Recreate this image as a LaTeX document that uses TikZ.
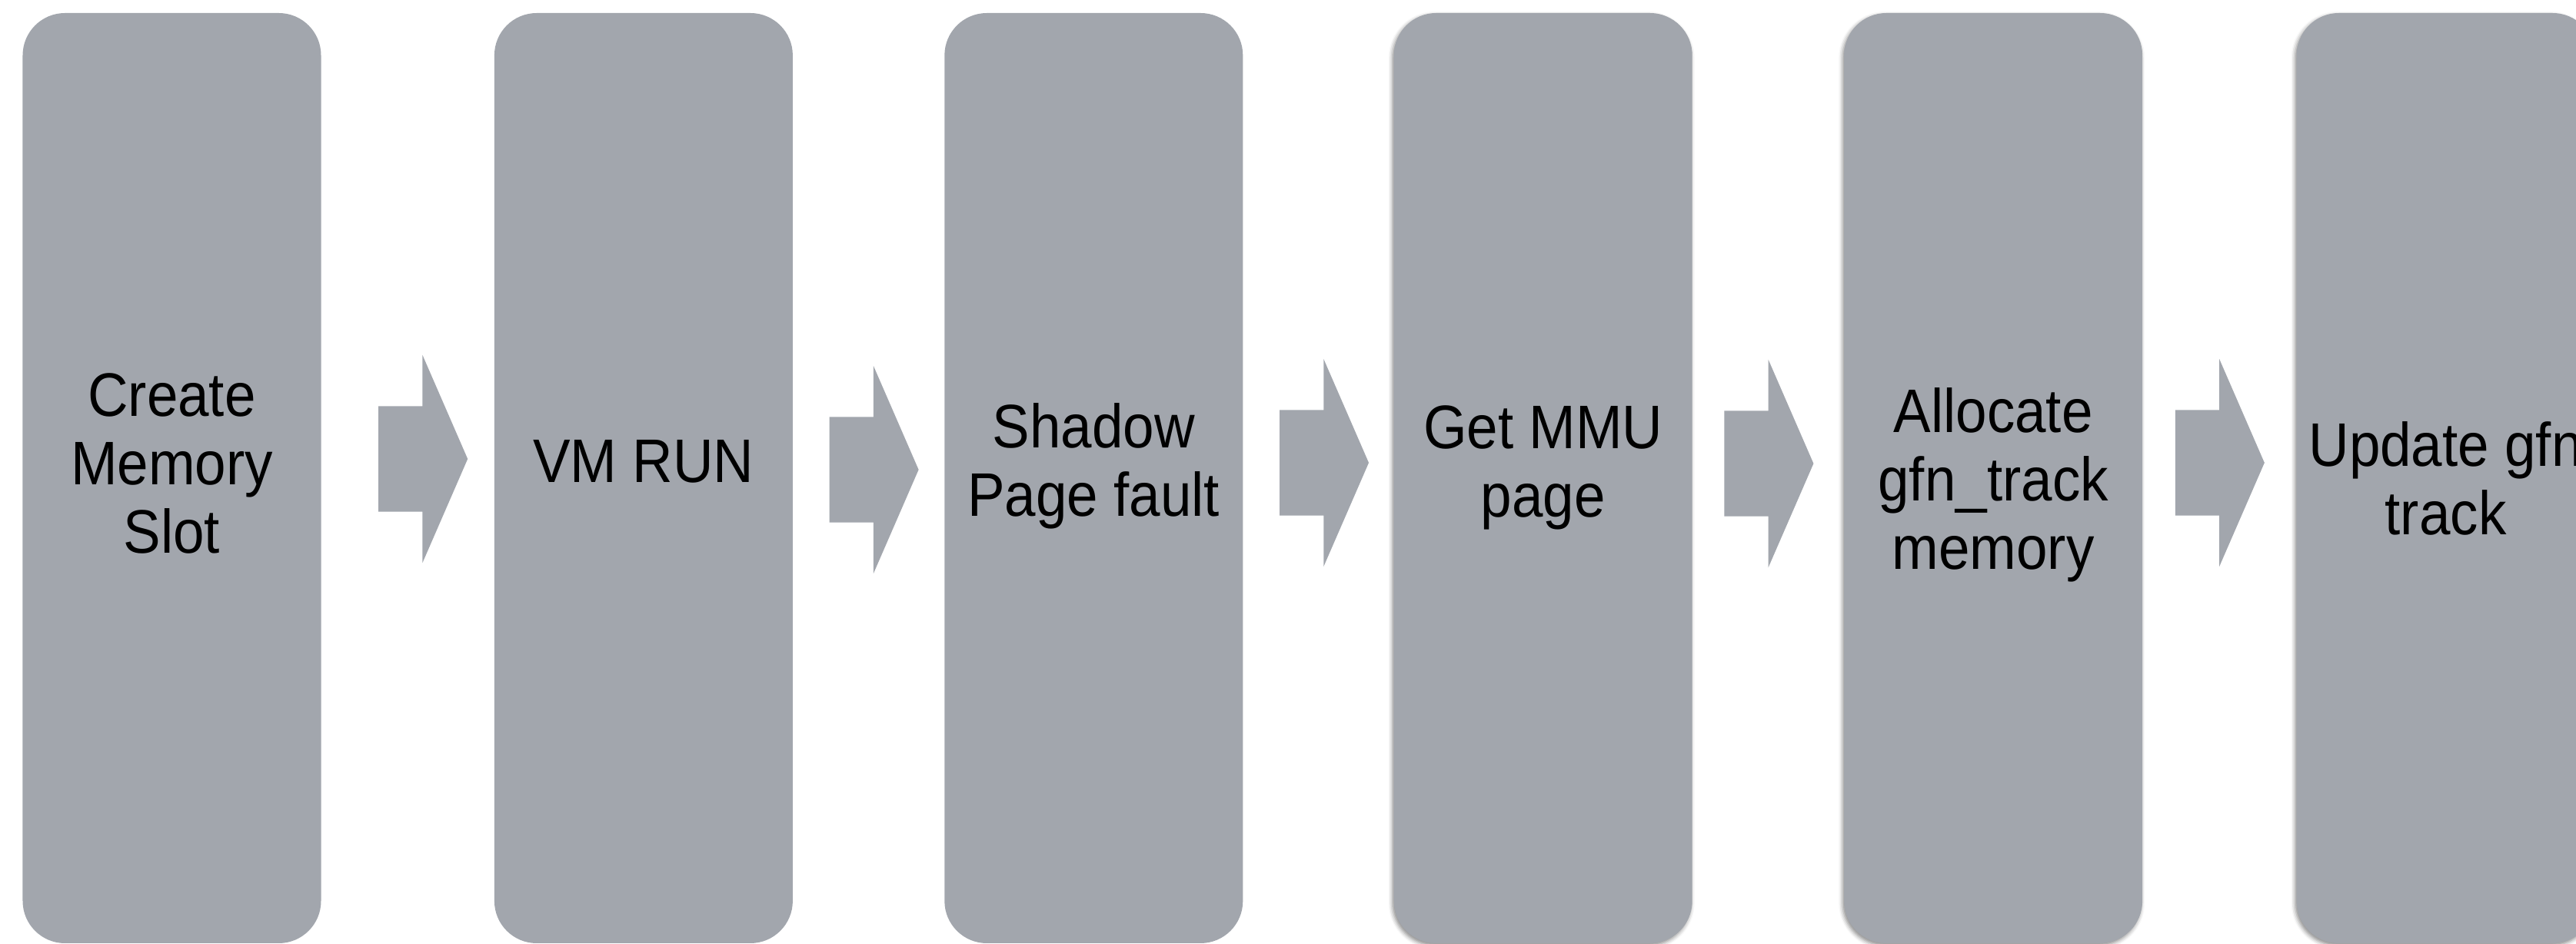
\documentclass[tikz,border=0pt]{standalone}
\usepackage{fontspec}
\setmainfont{Liberation Sans}[FakeStretch=0.91]
\usetikzlibrary{positioning,shapes.arrows,shadows.blur}
\definecolor{slate}{RGB}{162,166,173}

\begin{document}
\begin{tikzpicture}[
  stage/.style={fill=slate,rounded corners=0.55cm,minimum width=3.88cm,minimum height=12.1cm,inner sep=0pt},
  soft/.style={blur shadow={shadow xshift=-0.02cm,shadow yshift=-0.03cm,shadow blur radius=0.05cm,shadow opacity=45}},
  flow/.style={single arrow,fill=slate,inner xsep=0pt,inner ysep=0.68cm,minimum height=1.16cm,
    single arrow head extend=0.665cm,single arrow tip angle=133,outer sep=0pt},
  caption/.style={align=center,font=\fontsize{22.76pt}{25.3pt}\selectfont,inner sep=0pt}]
  \useasboundingbox (0,0) rectangle (33.5,-12.28);
  \clip (0,0) rectangle (33.5,-12.28);

  % the six stages, left to right
  \node[stage]      (s1) at (2.235,-6.22) {};
  \node[stage]      (s2) [right=2.24cm of s1] {};
  \node[stage]      (s3) [right=1.96cm of s2] {};
  \node[stage,soft] (s4) [right=1.95cm of s3] {};
  \node[stage,soft] (s5) [right=1.96cm of s4] {};
  \node[stage,soft] (s6) [right=1.99cm of s5] {};

  % block arrows between them
  \node[flow,yshift=0.25cm] (a1) [right=0.74cm of s1] {};
  \node[flow,yshift=0.11cm] (a2) [right=0.47cm of s2] {};
  \node[flow,yshift=0.20cm] (a3) [right=0.47cm of s3] {};
  \node[flow,yshift=0.19cm] (a4) [right=0.41cm of s4] {};
  \node[flow,yshift=0.20cm] (a5) [right=0.42cm of s5] {};

  \node[caption] (t1) at ([yshift=0.19cm]s1.center)  {Create\\Memory\\Slot};
  \node[caption] (t2) at ([yshift=0.22cm]s2.center)  {VM RUN};
  \node[caption] (t3) at ([yshift=0.155cm]s3.center) {Shadow\\Page fault};
  \node[caption] (t4) at ([yshift=0.135cm]s4.center) {Get MMU\\page};
  \node[caption] (t5) at ([yshift=-0.09cm]s5.center) {Allocate\\gfn\_track\\memory};
  \node[caption] (t6) at (s6.center)                 {Update gfn\\track};
\end{tikzpicture}
\end{document}
